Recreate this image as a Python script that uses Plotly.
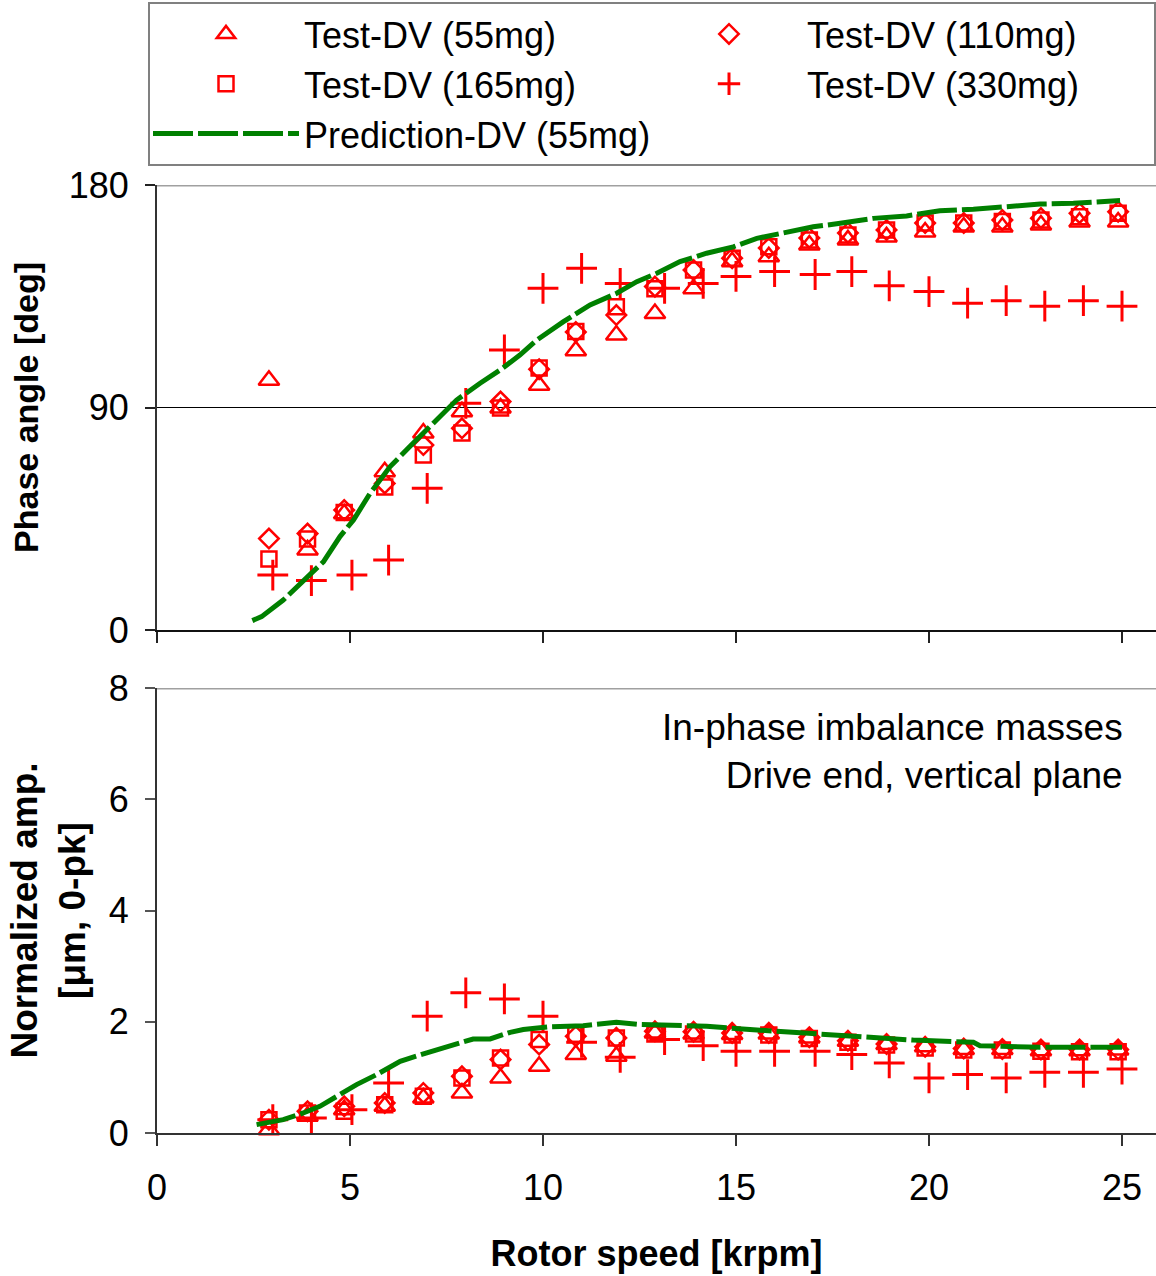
import plotly.graph_objects as go

# ---------------- data ----------------
speed_test = [2.9, 3.9, 4.85, 5.9, 6.9, 7.9, 8.9, 9.9, 10.85, 11.9, 12.9, 13.9, 14.9,
              15.85, 16.9, 17.9, 18.9, 19.9, 20.9, 21.9, 22.9, 23.9, 24.9]
speed_330 = [3.0, 4.0, 5.05, 6.0, 7.0, 8.0, 9.0, 10.0, 11.0, 12.0, 13.15, 14.15, 15.0,
             16.0, 17.05, 18.0, 18.97, 20.0, 21.0, 22.0, 23.0, 24.0, 25.0]

phase_55 = [101, 32.4, 47, 64, 79.7, 88.3, 89.8, 99, 113, 119.3, 128, 138, 149, 151,
            155.7, 157.8, 159, 161, 163, 163, 163.8, 165, 165]
phase_110 = [37, 39, 48.5, 59.3, 74.8, 81.6, 92.4, 105.5, 120.5, 127.4, 138.9, 145.6, 150.4,
             154.5, 158.6, 160.6, 161.8, 164.6, 164.6, 165.8, 166.6, 168.6, 169.2]
phase_165 = [28.7, 36.8, 47.5, 57.8, 70.8, 79.7, 89.8, 106, 120.7, 130.8, 138, 145.6, 150.4,
             155, 157.8, 159.8, 161.8, 164.6, 164.6, 165.2, 165.8, 167.2, 168.6]
phase_330 = [22.2, 20, 22.2, 28.3, 57.3, 91.7, 113.3, 138.2, 146.3, 140.2, 138.2, 140.2, 143,
             145, 143.8, 145, 139.2, 136.9, 132.2, 133.2, 131, 133.2, 131]

amp_55 = [0.06, 0.3, 0.42, 0.48, 0.63, 0.72, 0.99, 1.2, 1.41, 1.38, 1.8, 1.78, 1.77, 1.78,
          1.71, 1.65, 1.59, 1.55, 1.5, 1.5, 1.48, 1.48, 1.49]
amp_110 = [0.24, 0.39, 0.48, 0.54, 0.72, 1.02, 1.32, 1.59, 1.74, 1.71, 1.83, 1.82, 1.8, 1.8,
           1.72, 1.66, 1.6, 1.55, 1.52, 1.51, 1.5, 1.5, 1.5]
amp_165 = [0.24, 0.36, 0.39, 0.51, 0.66, 0.99, 1.35, 1.68, 1.77, 1.71, 1.78, 1.78, 1.76, 1.76,
           1.7, 1.63, 1.58, 1.53, 1.49, 1.49, 1.47, 1.46, 1.46]
amp_330 = [0.24, 0.27, 0.42, 0.9, 2.1, 2.52, 2.41, 2.1, 1.63, 1.36, 1.68, 1.57, 1.47, 1.47,
           1.47, 1.41, 1.26, 0.99, 1.05, 0.99, 1.09, 1.09, 1.15]

pred_speed_phase = [2.47, 2.71, 3.27, 3.79, 4.31, 4.74, 5.09, 5.52, 6.04, 6.55, 7.16, 7.76,
                    8.37, 8.89, 9.4, 9.84, 10.53, 11.22, 11.91, 12.43, 12.95, 13.55, 14.24,
                    14.93, 15.54, 16.14, 17.0, 17.7, 18.56, 19.42, 20.28, 21.15, 22.0, 22.88,
                    23.74, 24.95]
pred_phase = [3.8, 5.4, 12.1, 19.6, 27.6, 37.8, 44.5, 55.3, 66.1, 74.2, 83.6, 93, 99.8, 105.2,
              111.2, 117.3, 124.7, 131.5, 136.2, 140.9, 144.3, 149, 152.4, 155, 158.4, 160.5,
              163.1, 164.5, 166.5, 167.5, 169.6, 170.2, 171.2, 172.3, 172.6, 173.7]

pred_speed_amp = [2.58, 3.27, 3.79, 4.22, 4.66, 5.17, 5.69, 6.3, 6.99, 7.59, 8.19, 8.63, 9.15,
                  9.49, 10.18, 11.04, 11.9, 12.51, 14.24, 15.36, 16.48, 17.52, 18.56, 19.59,
                  21.15, 21.32, 22.88, 25.0]
pred_amp = [0.15, 0.24, 0.36, 0.48, 0.66, 0.87, 1.05, 1.29, 1.44, 1.56, 1.69, 1.69, 1.81, 1.86,
            1.91, 1.93, 1.99, 1.95, 1.92, 1.86, 1.81, 1.75, 1.71, 1.67, 1.63, 1.57, 1.54, 1.54]

x_ticks = [0, 5, 10, 15, 20, 25]
phase_ticks = [0, 90, 180]
amp_ticks = [0, 2, 4, 6, 8]

names = ["Test-DV (55mg)", "Test-DV (110mg)", "Test-DV (165mg)", "Test-DV (330mg)",
         "Prediction-DV (55mg)"]

# ---------------- styling ----------------
FONT = "Liberation Sans, Arial, sans-serif"
RED = "#FF0000"
GREEN = "#008000"
W, H = 1156, 1276
ML, MR, MT, MB = 157, 0, 185, 143
plot_h = H - MT - MB
top_dom = [(1133 - 630) / plot_h, 1.0]
bot_dom = [0.0, (1133 - 688) / plot_h]

markers = [
    dict(symbol="triangle-up-open", size=18, color=RED, line=dict(color=RED, width=2.5)),
    dict(symbol="diamond-open", size=15, color=RED, line=dict(color=RED, width=2.5)),
    dict(symbol="square-open", size=15, color=RED, line=dict(color=RED, width=2.5)),
    dict(symbol="cross-thin-open", size=22, color=RED, line=dict(color=RED, width=3)),
]
pred_line = dict(color=GREEN, width=5, dash="40px,5px")

fig = go.Figure()

test_x = [speed_test, speed_test, speed_test, speed_330]
phases = [phase_55, phase_110, phase_165, phase_330]
amps = [amp_55, amp_110, amp_165, amp_330]

for i in range(4):
    fig.add_trace(go.Scatter(x=test_x[i], y=phases[i], mode="markers", name=names[i],
                             marker=markers[i], cliponaxis=False, legendgroup=names[i],
                             xaxis="x", yaxis="y"))
fig.add_trace(go.Scatter(x=pred_speed_phase, y=pred_phase, mode="lines", name=names[4],
                         line=pred_line, legendgroup=names[4], xaxis="x", yaxis="y"))
for i in range(4):
    fig.add_trace(go.Scatter(x=test_x[i], y=amps[i], mode="markers", name=names[i],
                             marker=markers[i], cliponaxis=False, showlegend=False,
                             legendgroup=names[i], xaxis="x2", yaxis="y2"))
fig.add_trace(go.Scatter(x=pred_speed_amp, y=pred_amp, mode="lines", name=names[4],
                         line=pred_line, showlegend=False,
                         legendgroup=names[4], xaxis="x2", yaxis="y2"))

xr = [0, (W - ML) / 38.6]
tickfont = dict(family=FONT, size=36, color="black")

fig.update_layout(
    width=W, height=H,
    margin=dict(l=ML, r=MR, t=MT, b=MB, pad=0),
    paper_bgcolor="white", plot_bgcolor="white",
    font=dict(family=FONT, color="black"),
    xaxis=dict(domain=[0, 1], anchor="y", range=xr, tickvals=x_ticks, showticklabels=False,
               ticks="outside", ticklen=11, tickwidth=1.5, tickcolor="#222",
               showline=True, linecolor="#111", linewidth=2, showgrid=False, zeroline=False),
    yaxis=dict(domain=top_dom, anchor="x", range=[0, 180], tickvals=phase_ticks,
               ticks="outside", ticklen=10, tickwidth=1.5, tickcolor="#222",
               tickfont=tickfont, ticklabelstandoff=9,
               showline=True, linecolor="#333", linewidth=2,
               showgrid=True, gridcolor="#000", gridwidth=1, zeroline=False,
               title=dict(text="<b>Phase angle [deg]</b>",
                          font=dict(family=FONT, size=34, color="black"), standoff=20)),
    xaxis2=dict(domain=[0, 1], anchor="y2", range=xr, tickvals=x_ticks,
                ticks="outside", ticklen=11, tickwidth=1.5, tickcolor="#333",
                tickfont=tickfont, ticklabelstandoff=11,
                showline=True, linecolor="#333", linewidth=2, showgrid=False, zeroline=False,
                title=dict(text="<b>Rotor speed [krpm]</b>",
                           font=dict(family=FONT, size=36, color="black"), standoff=34)),
    yaxis2=dict(domain=bot_dom, anchor="x2", range=[0, 8], tickvals=amp_ticks,
                ticks="outside", ticklen=10, tickwidth=1.5, tickcolor="#555",
                tickfont=tickfont, ticklabelstandoff=9,
                showline=True, linecolor="#333", linewidth=2, showgrid=False, zeroline=False,
                title=dict(text="<b>Normalized amp.<br>[μm, 0-pk]</b>",
                           font=dict(family=FONT, size=37, color="black"), standoff=12)),
    legend=dict(orientation="h", x=-0.0001, xanchor="left", y=1 + (MT - 2) / plot_h,
                yanchor="top", font=dict(family=FONT, size=36, color="black"),
                bgcolor="white", bordercolor="#808080", borderwidth=2,
                itemwidth=146, entrywidth=342, tracegroupgap=0, itemclick=False),
    showlegend=True,
    shapes=[
        dict(type="line", xref="x domain", yref="y", x0=0, x1=1, y0=180, y1=180,
             line=dict(color="#A0A0A0", width=3)),
        dict(type="line", xref="x2 domain", yref="y2", x0=0, x1=1, y0=8, y1=8,
             line=dict(color="#A0A0A0", width=3)),
    ],
    annotations=[
        dict(text="In-phase imbalance masses<br>Drive end, vertical plane",
             xref="x2", yref="y2", x=25.07, y=7.7, xanchor="right", yanchor="top",
             align="right", showarrow=False,
             font=dict(family=FONT, size=37, color="black")),
    ],
)

fig.write_html("out.html")
